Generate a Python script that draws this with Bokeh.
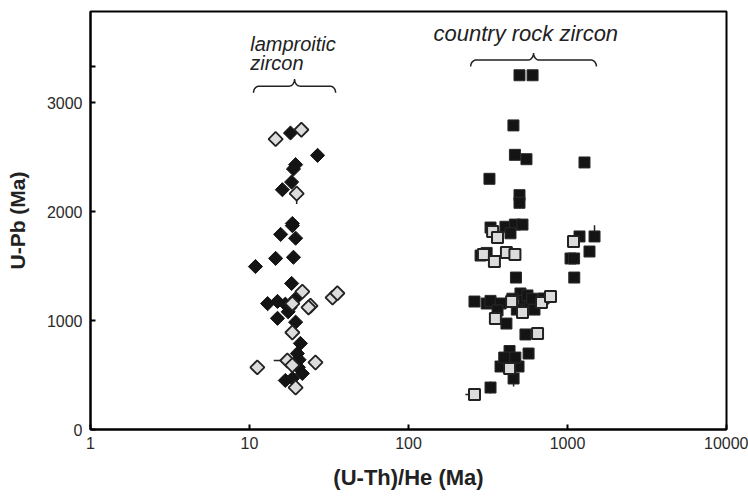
import numpy as np
from bokeh.plotting import figure
from bokeh.models import Range1d, FixedTicker
from bokeh.core.properties import value
from bokeh.embed import file_html
from bokeh.resources import INLINE

# ---------------- data ----------------
# lamproitic zircon (diamonds)
lamp_black_he = [18.1, 26.8, 19.5, 18.9, 18.4, 16.1, 18.6, 18.6, 15.7, 19.5, 10.9, 14.6, 18.9,
                 18.4, 13.0, 15.0, 16.8, 18.0, 19.5, 17.5, 15.0, 19.5, 20.9, 20.0, 20.3, 21.5,
                 16.8, 18.6, 19.0, 20.5]
lamp_black_upb = [2720, 2515, 2430, 2390, 2270, 2200, 1890, 1870, 1790, 1755, 1495, 1570, 1580,
                  1340, 1155, 1175, 1150, 1120, 1200, 1080, 1020, 985, 790, 697, 570, 514,
                  450, 468, 600, 640]
lamp_grey_he = [14.6, 21.2, 19.8, 21.5, 33.3, 35.7, 18.6, 24.2, 23.5, 18.6, 17.3, 11.2, 26.0,
                19.5, 18.6]
lamp_grey_upb = [2665, 2750, 2165, 1265, 1210, 1250, 1155, 1135, 1120, 890, 633, 570, 615,
                 385, 590]

# country rock zircon (squares)
crock_black_he = [499, 603, 457, 467, 552, 1279, 323, 499, 499, 328, 407, 467, 521, 438, 284,
                  310, 1190, 1479, 1375, 1045, 1100, 1103, 474, 260, 310, 328, 380, 506, 535,
                  580, 620, 707, 363, 413, 544, 569, 432, 379, 492, 458, 328, 450, 480, 560,
                  600, 432, 400, 470]
crock_black_upb = [3250, 3250, 2790, 2520, 2480, 2450, 2300, 2150, 2080, 1853, 1860, 1880, 1880,
                   1800, 1596, 1620, 1771, 1771, 1633, 1569, 1569, 1394, 1394, 1174, 1156, 1180,
                   1156, 1248, 1180, 1150, 1100, 1202, 1092, 972, 872, 697, 660, 578, 578, 468,
                   385, 1200, 1100, 1230, 1200, 720, 660, 660]
crock_grey_he = [338, 363, 296, 347, 413, 467, 1091, 445, 521, 686, 782, 352, 648, 432, 260]
crock_grey_upb = [1817, 1761, 1605, 1541, 1624, 1605, 1725, 1174, 1073, 1165, 1220, 1018, 881,
                  560, 321]

# error bars (x0, x1, y0, y1)
err_x0 = [19.8, 14.2, 1479, 228, 328, 458, 1091, 603]
err_x1 = [19.8, 17.3, 1479, 260, 328, 458, 1091, 603]
err_y0 = [2070, 633, 1771, 321, 330, 395, 1690, 3200]
err_y1 = [2165, 633, 1875, 321, 440, 540, 1725, 3250]

x_ticks = [1, 10, 100, 1000, 10000]
x_tick_labels = ["1", "10", "100", "1000", "10000"]
y_ticks = [0, 1000, 2000, 3000, 3330]
y_tick_labels = ["0", "1000", "2000", "3000", ""]

# ---------------- figure ----------------
p = figure(frame_width=636, frame_height=418, x_axis_type="log",
           x_range=Range1d(1, 10000), y_range=Range1d(0, 3835),
           output_backend="svg", toolbar_location=None,
           min_border_left=90, min_border_right=22, min_border_top=11, min_border_bottom=68)
p.background_fill_color = "white"
p.border_fill_color = "white"
p.grid.visible = False
p.outline_line_color = "black"
p.outline_line_width = 2

tick_font = "Liberation Sans"
for ax in (p.xaxis[0], p.yaxis[0]):
    ax.axis_line_width = 2
    ax.axis_line_color = "black"
    ax.major_tick_in = 5
    ax.major_tick_out = 0
    ax.major_tick_line_width = 2
    ax.minor_tick_line_color = None
    ax.major_label_text_font = tick_font
    ax.major_label_text_font_size = "16px"
    ax.major_label_text_color = "#2a2a2a"
    ax.axis_label_text_font = "Liberation Sans"
    ax.axis_label_text_font_style = "bold"
    ax.axis_label_text_color = "#222222"

p.xaxis.axis_label_text_font_size = "22px"
p.yaxis.axis_label_text_font_size = "21px"
p.xaxis.major_label_standoff = 7
p.yaxis.major_label_standoff = 8
p.xaxis.ticker = FixedTicker(ticks=x_ticks)
p.xaxis.major_label_overrides = {t: l for t, l in zip(x_ticks, x_tick_labels)}
p.yaxis.ticker = FixedTicker(ticks=y_ticks)
p.yaxis.major_label_overrides = {t: l for t, l in zip(y_ticks, y_tick_labels)}
p.xaxis.axis_label = "(U-Th)/He (Ma)"
p.yaxis.axis_label = "U-Pb (Ma)"
p.xaxis.axis_label_standoff = 13
p.yaxis.axis_label_standoff = 15

# error bars
p.segment(x0=err_x0, x1=err_x1, y0=err_y0, y1=err_y1, line_color="#222222", line_width=1.5)

# diamonds
p.scatter(lamp_black_he, lamp_black_upb, marker="square", angle=np.pi / 4, size=10,
          fill_color="#141414", line_color="#141414", line_width=1)
p.scatter(lamp_grey_he, lamp_grey_upb, marker="square", angle=np.pi / 4, size=10,
          fill_color="#dcdcdc", line_color="#222222", line_width=1.8)

# squares
p.scatter(crock_black_he, crock_black_upb, marker="square", size=11,
          fill_color="#141414", line_color="#2a2a2a", line_width=1)
p.scatter(crock_grey_he, crock_grey_upb, marker="square", size=11,
          fill_color="#dcdcdc", line_color="#222222", line_width=2)


# braces (annotation shapes)
def brace(xl, xr, y_end, y_flat, y_peak, d=0.035, n=12):
    l0, l1 = np.log10(xl), np.log10(xr)
    lc = (l0 + l1) / 2
    t = np.linspace(0, np.pi / 2, n)
    xs, ys = [], []
    xs += list(l0 + d * (1 - np.cos(t))); ys += list(y_end + (y_flat - y_end) * np.sin(t))
    xs += list(lc - d + d * np.sin(t)); ys += list(y_flat + (y_peak - y_flat) * (1 - np.cos(t)))
    xs += list(lc + d - d * np.sin(t[::-1])); ys += list(y_flat + (y_peak - y_flat) * (1 - np.cos(t[::-1])))
    xs += list(l1 - d * (1 - np.cos(t[::-1]))); ys += list(y_end + (y_flat - y_end) * np.sin(t[::-1]))
    return list(10 ** np.array(xs)), ys


bx1, by1 = brace(10.6, 34.8, 3090, 3150, 3215)
bx2, by2 = brace(246, 1520, 3330, 3390, 3455)
p.line(bx1, by1, line_color="#222222", line_width=1.5)
p.line(bx2, by2, line_color="#222222", line_width=1.5)

ann_font = value("Liberation Sans")
p.text(x=[10.1, 10.1], y=[3541, 3358], text=["lamproitic", "zircon"],
       text_font=ann_font, text_font_style="italic", text_font_size="20px",
       text_color="#222222", text_baseline="alphabetic", text_align="left")
p.text(x=[143.6], y=[3633], text=["country rock zircon"],
       text_font=ann_font, text_font_style="italic", text_font_size="22px",
       text_color="#222222", text_baseline="alphabetic", text_align="left")

open("out.html", "w").write(file_html(p, INLINE))
